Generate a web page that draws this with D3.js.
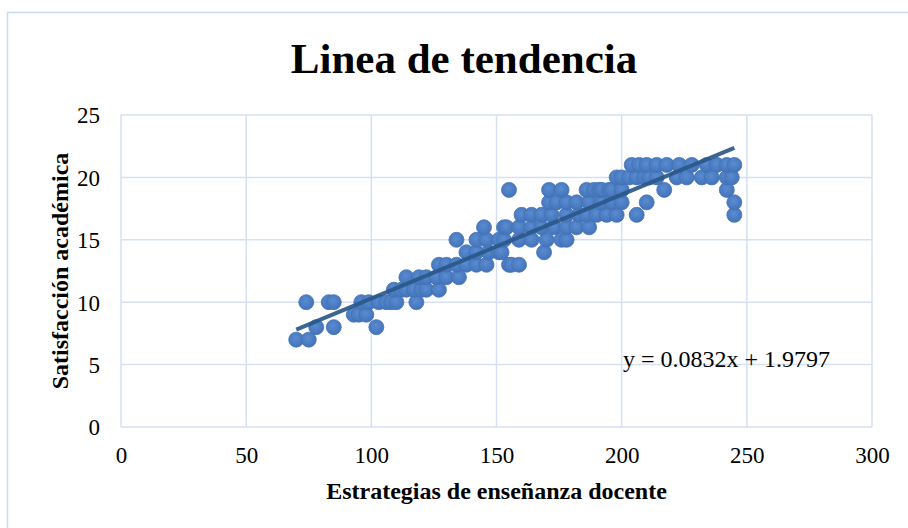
<!DOCTYPE html>
<html>
<head>
<meta charset="utf-8">
<script src="https://cdn.jsdelivr.net/npm/d3@7"></script>
<style>
html,body{margin:0;padding:0;background:#fff;}
svg{display:block;font-family:"Liberation Serif","Times New Roman",serif;}
</style>
</head>
<body>
<svg id="chart" width="908" height="528"></svg>
<script>
// ---- data ----
const title = "Linea de tendencia";
const xTitle = "Estrategias de enseñanza docente";
const yTitle = "Satisfacción académica";
const equation = "y = 0.0832x + 1.9797";
const slope = 0.0832, intercept = 1.9797;
const xTicks = [0, 50, 100, 150, 200, 250, 300];
const yTicks = [0, 5, 10, 15, 20, 25];

// x values (Estrategias) per satisfaction level
const xAt7  = [70, 75];
const xAt8  = [78, 85, 102];
const xAt9  = [93, 95, 98];
const xAt10 = [74, 83, 85, 96, 99, 103, 106, 108, 110, 118];
const xAt11 = [109, 112, 114, 117, 120, 122, 127];
const xAt12 = [114, 119, 122, 126, 130, 135];
const xAt13 = [127, 130, 134, 138, 142, 146, 155, 156, 159];
const xAt14 = [138, 142, 147, 151, 152, 169];
const xAt15 = [134, 142, 146, 151, 153, 159, 164, 170, 176, 178];
const xAt16 = [145, 153, 154, 159, 164, 168, 173, 178, 182, 187];
const xAt17 = [160, 164, 168, 172, 178, 183, 186, 190, 194, 198, 206, 245];
const xAt18 = [171, 174, 178, 182, 187, 192, 196, 200, 210, 245];
const xAt19 = [155, 171, 176, 186, 189, 191, 192, 195, 196, 200, 217, 242];
const xAt20 = [198, 200, 203, 206, 209, 211, 214, 222, 226, 232, 236, 242, 244];
const xAt21 = [204, 207, 210, 214, 218, 223, 228, 234, 238, 242, 245];

const yLevels = [7, 8, 9, 10, 11, 12, 13, 14, 15, 16, 17, 18, 19, 20, 21];
const xLists = [xAt7, xAt8, xAt9, xAt10, xAt11, xAt12, xAt13, xAt14, xAt15, xAt16, xAt17, xAt18, xAt19, xAt20, xAt21];
const points = [];
yLevels.forEach((yv, i) => xLists[i].forEach(xv => points.push({x: xv, y: yv})));

// ---- layout ----
const svg = d3.select("#chart");
const pL = 121, pR = 872, pT = 115, pB = 427;
const x = d3.scaleLinear().domain([0, 300]).range([pL, pR]);
const y = d3.scaleLinear().domain([0, 25]).range([pB, pT]);
const gridColor = "#D5E1F1";

// outer chart border
svg.append("rect").attr("x", 7.5).attr("y", 12.5).attr("width", 940).attr("height", 540)
  .attr("fill", "#fff").attr("stroke", "#CCDAEE").attr("stroke-width", 1.5);

// gridlines
svg.append("g").selectAll("line").data(yTicks).join("line")
  .attr("x1", pL).attr("x2", pR).attr("y1", d => y(d)).attr("y2", d => y(d))
  .attr("stroke", gridColor).attr("stroke-width", 1.5);
svg.append("g").selectAll("line").data(xTicks).join("line")
  .attr("y1", pT).attr("y2", pB).attr("x1", d => x(d)).attr("x2", d => x(d))
  .attr("stroke", gridColor).attr("stroke-width", 1.5);

// axes (labels only)
const xAxis = d3.axisBottom(x).tickValues(xTicks).tickSize(0).tickPadding(0);
const gx = svg.append("g").attr("transform", `translate(0,${pB})`).call(xAxis);
gx.select(".domain").remove();
gx.selectAll("text").attr("font-family", "Liberation Serif").attr("font-size", 23)
  .attr("fill", "#000").attr("dy", null).attr("y", 36);

const yAxis = d3.axisLeft(y).tickValues(yTicks).tickSize(0).tickPadding(0);
const gy = svg.append("g").attr("transform", `translate(${pL},0)`).call(yAxis);
gy.select(".domain").remove();
gy.selectAll("text").attr("font-family", "Liberation Serif").attr("font-size", 23)
  .attr("fill", "#000").attr("x", -21).attr("dy", "0.34em");

// gradient for markers
const defs = svg.append("defs");
const grad = defs.append("radialGradient").attr("id", "mk").attr("cx", "45%").attr("cy", "40%").attr("r", "60%");
grad.append("stop").attr("offset", "0%").attr("stop-color", "#5A8CD2");
grad.append("stop").attr("offset", "100%").attr("stop-color", "#4372B8");

// points
svg.append("g").selectAll("circle").data(points).join("circle")
  .attr("cx", d => x(d.x)).attr("cy", d => y(d.y)).attr("r", 7.5)
  .attr("fill", "url(#mk)").attr("stroke", "#4272B6").attr("stroke-width", 0.8);

// trend line
const xMin = d3.min(points, d => d.x), xMax = d3.max(points, d => d.x);
svg.append("line")
  .attr("x1", x(xMin)).attr("y1", y(slope * xMin + intercept))
  .attr("x2", x(xMax)).attr("y2", y(slope * xMax + intercept))
  .attr("stroke", "#2B5889").attr("stroke-width", 4).attr("stroke-opacity", 0.92)
  .attr("stroke-linecap", "butt");

// equation
svg.append("text").attr("x", 623).attr("y", 367).attr("font-size", 24).attr("fill", "#000")
  .text(equation);

// title
svg.append("text").attr("x", 464).attr("y", 73).attr("text-anchor", "middle")
  .attr("font-size", 43).attr("font-weight", "bold").attr("fill", "#000").text(title);

// axis titles
svg.append("text").attr("x", (pL + pR) / 2).attr("y", 499).attr("text-anchor", "middle")
  .attr("font-size", 24).attr("font-weight", "bold").attr("fill", "#000").text(xTitle);
svg.append("text").attr("transform", `translate(68,${(pT + pB) / 2}) rotate(-90)`)
  .attr("text-anchor", "middle").attr("font-size", 24).attr("font-weight", "bold")
  .attr("fill", "#000").text(yTitle);
</script>
</body>
</html>
